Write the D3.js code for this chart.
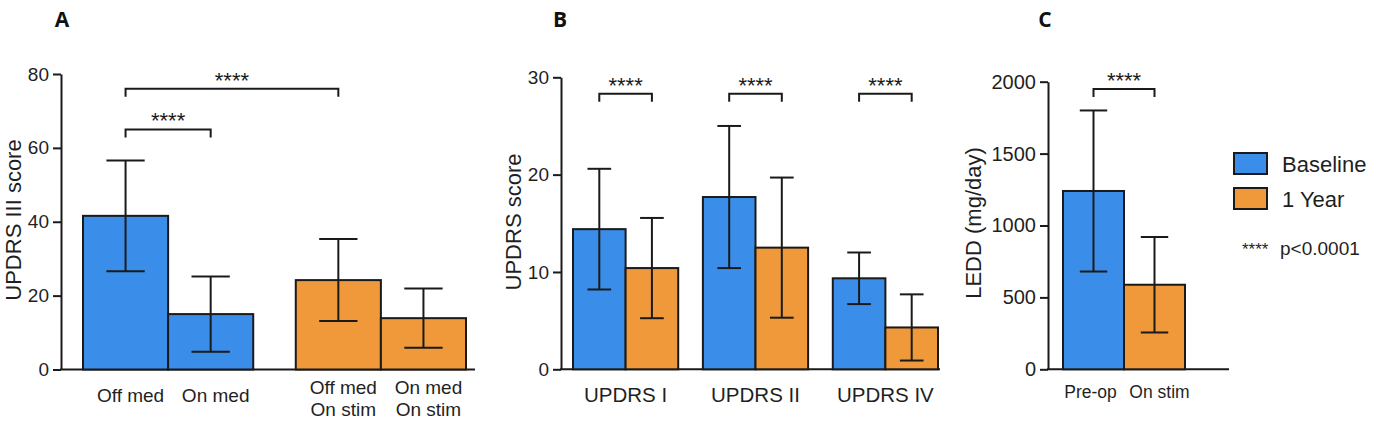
<!DOCTYPE html>
<html>
<head>
<meta charset="utf-8">
<script src="https://cdn.jsdelivr.net/npm/d3@7"></script>
<style>
    body { margin: 0; background: #fff; }
    svg { display: block; font-family: "Liberation Sans", Arial, sans-serif; }
</style>
</head>
<body>
<svg id="chart" width="1382" height="422"></svg>
<script>
// Series shared by all three panels
const seriesNames = ["Baseline", "1 Year"];
const seriesColors = ["#3a8ee9", "#ef993a"];

// Panel A - UPDRS III
const aLabels = [["Off med"], ["On med"], ["Off med", "On stim"], ["On med", "On stim"]];
const aSeries = [0, 0, 1, 1];
const aGroups = [0, 0, 1, 1];
const aMeans = [41.6, 15.0, 24.2, 13.9];
const aErrors = [15.0, 10.2, 11.1, 8.0];
const aTicks = [0, 20, 40, 60, 80];
const aBrackets = [{ from: 0, to: 1, y: 65 }, { from: 0, to: 2, y: 76 }];

// Panel B - UPDRS parts
const bGroupLabels = ["UPDRS I", "UPDRS II", "UPDRS IV"];
const bBaseline = [14.4, 17.7, 9.35];
const bBaselineErr = [6.2, 7.3, 2.65];
const bYear = [10.4, 12.5, 4.3];
const bYearErr = [5.15, 7.2, 3.4];
const bTicks = [0, 10, 20, 30];
const bBracketY = 28.3;

// Panel C - LEDD
const cLabels = ["Pre-op", "On stim"];
const cMeans = [1240, 588];
const cErrors = [560, 332];
const cTicks = [0, 500, 1000, 1500, 2000];
const cBracketY = 1950;

const svg = d3.select("#chart");
const ink = "#1a1a1a";
const textInk = "#1f1f1f";

/**
 * Draws one bar panel: y axis, baseline, bars, error bars and significance brackets.
 */
const drawPanel = (p) => {
    const g = svg.append("g");

    // y axis
    g.append("g")
        .attr("transform", `translate(${p.axisX},0)`)
        .call(d3.axisLeft(p.y).tickValues(p.ticks).tickFormat(d3.format("d"))
            .tickSize(8).tickSizeOuter(0).tickPadding(4))
        .call(a => a.selectAll("path, line").attr("stroke", ink).attr("stroke-width", 2))
        .call(a => a.selectAll("text")
            .attr("fill", textInk)
            .style("font-size", p.tickFont + "px")
            .style("font-family", "'Liberation Sans', Arial, sans-serif"));

    // x baseline
    g.append("line")
        .attr("x1", p.axisX - 1).attr("x2", p.axisEnd)
        .attr("y1", p.y(0)).attr("y2", p.y(0))
        .attr("stroke", ink).attr("stroke-width", 2);

    // bars
    g.append("g")
        .selectAll("rect")
        .data(p.bars)
        .enter()
        .append("rect")
        .attr("x", d => d.x)
        .attr("y", d => p.y(d.mean))
        .attr("width", d => d.w)
        .attr("height", d => p.y(0) - p.y(d.mean))
        .attr("fill", d => seriesColors[d.series])
        .attr("stroke", ink)
        .attr("stroke-width", 2);

    // error bars
    const err = g.append("g")
        .selectAll("g")
        .data(p.bars)
        .enter()
        .append("g")
        .attr("stroke", ink)
        .attr("stroke-width", 2);

    err.append("line")
        .attr("x1", d => d.x + d.w / 2).attr("x2", d => d.x + d.w / 2)
        .attr("y1", d => p.y(d.mean - d.err)).attr("y2", d => p.y(d.mean + d.err));
    [1, -1].forEach(sign => {
        err.append("line")
            .attr("x1", d => d.x + d.w / 2 - d.w * 0.225)
            .attr("x2", d => d.x + d.w / 2 + d.w * 0.225)
            .attr("y1", d => p.y(d.mean + sign * d.err))
            .attr("y2", d => p.y(d.mean + sign * d.err));
    });

    // significance brackets
    p.brackets.forEach(b => {
        const x1 = p.bars[b.from].x + p.bars[b.from].w / 2;
        const x2 = p.bars[b.to].x + p.bars[b.to].w / 2;
        const yy = p.y(b.y);
        g.append("path")
            .attr("d", `M${x1},${yy + 8}V${yy}H${x2}V${yy + 8}`)
            .attr("fill", "none")
            .attr("stroke", ink)
            .attr("stroke-width", 2);
        g.append("text")
            .attr("x", (x1 + x2) / 2)
            .attr("y", yy - 1)
            .attr("text-anchor", "middle")
            .attr("fill", ink)
            .style("font-size", "22px")
            .text("****");
    });

    // rotated y label
    g.append("text")
        .attr("transform", `translate(${p.labelX},${p.labelY}) rotate(-90)`)
        .attr("text-anchor", "middle")
        .attr("fill", textInk)
        .style("font-size", "22px")
        .text(p.yLabel);

    // panel letter
    svg.append("text")
        .attr("x", p.letterX)
        .attr("y", 27)
        .attr("text-anchor", "middle")
        .attr("fill", "#111")
        .style("font-family", "'Open Sans', sans-serif")
        .style("font-weight", "bold")
        .style("font-size", "21px")
        .text(p.letter);

    return g;
};

// ---------- Panel A ----------
const aY = d3.scaleLinear().domain([0, 80]).range([369.5, 74]);
const aOuter = d3.scaleBand().domain([0, 1]).range([83, 466]).paddingInner(0.2);
const aInner = d3.scaleBand().domain([0, 1]).range([0, aOuter.bandwidth()]);
const aBars = aMeans.map((m, i) => {
    const slot = aGroups.slice(0, i).filter(gr => gr === aGroups[i]).length;
    return {
        x: aOuter(aGroups[i]) + aInner(slot),
        w: aInner.bandwidth(),
        mean: m,
        err: aErrors[i],
        series: aSeries[i],
        label: aLabels[i]
    };
});
const gA = drawPanel({
    bars: aBars, y: aY, ticks: aTicks, axisX: 61, axisEnd: 475, tickFont: 19,
    brackets: aBrackets, yLabel: "UPDRS III score", labelX: 21, labelY: 220,
    letter: "A", letterX: 62
});
gA.append("g")
    .selectAll("text")
    .data(aBars)
    .enter()
    .append("text")
    .attr("x", d => d.x + d.w / 2 + 5)
    .attr("y", d => d.label.length > 1 ? 394 : 402)
    .attr("text-anchor", "middle")
    .attr("fill", textInk)
    .style("font-size", "19px")
    .selectAll("tspan")
    .data(d => d.label)
    .enter()
    .append("tspan")
    .attr("x", function () { return d3.select(this.parentNode).attr("x"); })
    .attr("dy", (d, i) => i === 0 ? 0 : 22)
    .text(d => d);

// ---------- Panel B ----------
const bY = d3.scaleLinear().domain([0, 30]).range([369.3, 77.3]);
const bOuter = d3.scaleBand().domain(bGroupLabels).range([573, 938]).paddingInner(0.19);
const bInner = d3.scaleBand().domain(seriesNames).range([0, bOuter.bandwidth()]);
const bBars = [];
bGroupLabels.forEach((grp, i) => {
    bBars.push({ x: bOuter(grp) + bInner("Baseline"), w: bInner.bandwidth(), mean: bBaseline[i], err: bBaselineErr[i], series: 0 });
    bBars.push({ x: bOuter(grp) + bInner("1 Year"), w: bInner.bandwidth(), mean: bYear[i], err: bYearErr[i], series: 1 });
});
const gB = drawPanel({
    bars: bBars, y: bY, ticks: bTicks, axisX: 561, axisEnd: 940, tickFont: 19,
    brackets: bGroupLabels.map((_, i) => ({ from: i * 2, to: i * 2 + 1, y: bBracketY })),
    yLabel: "UPDRS score", labelX: 521, labelY: 222,
    letter: "B", letterX: 560
});
gB.append("g")
    .selectAll("text")
    .data(bGroupLabels)
    .enter()
    .append("text")
    .attr("x", d => bOuter(d) + bOuter.bandwidth() / 2)
    .attr("y", 402)
    .attr("text-anchor", "middle")
    .attr("fill", textInk)
    .style("font-size", "20.5px")
    .text(d => d);

// ---------- Panel C ----------
const cY = d3.scaleLinear().domain([0, 2000]).range([369.3, 81.7]);
const cX = d3.scaleBand().domain(cLabels).range([1063, 1185]);
const cBars = cLabels.map((lab, i) => ({
    x: cX(lab), w: cX.bandwidth(), mean: cMeans[i], err: cErrors[i], series: i
}));
const gC = drawPanel({
    bars: cBars, y: cY, ticks: cTicks, axisX: 1048, axisEnd: 1229, tickFont: 20,
    brackets: [{ from: 0, to: 1, y: cBracketY }],
    yLabel: "LEDD (mg/day)", labelX: 981, labelY: 223,
    letter: "C", letterX: 1045
});
gC.append("g")
    .selectAll("text")
    .data(cLabels)
    .enter()
    .append("text")
    .attr("x", (d, i) => cX(d) + cX.bandwidth() / 2 + (i === 0 ? -3 : 5))
    .attr("y", 398)
    .attr("text-anchor", "middle")
    .attr("fill", textInk)
    .style("font-size", "17.5px")
    .text(d => d);

// ---------- Legend ----------
const legend = svg.append("g").attr("transform", "translate(1234,153)");
const item = legend.selectAll("g")
    .data(seriesNames)
    .enter()
    .append("g")
    .attr("transform", (d, i) => `translate(0,${i * 35})`);
item.append("rect")
    .attr("width", 33).attr("height", 21)
    .attr("fill", (d, i) => seriesColors[i])
    .attr("stroke", ink).attr("stroke-width", 2);
item.append("text")
    .attr("x", 48).attr("y", 18.5)
    .attr("fill", textInk)
    .style("font-size", "22px")
    .text(d => d);

legend.append("text")
    .attr("x", 8).attr("y", 102)
    .attr("fill", textInk)
    .style("font-size", "17px")
    .text("****");
legend.append("text")
    .attr("x", 46).attr("y", 102)
    .attr("fill", textInk)
    .style("font-size", "19px")
    .text("p<0.0001");
</script>
</body>
</html>
